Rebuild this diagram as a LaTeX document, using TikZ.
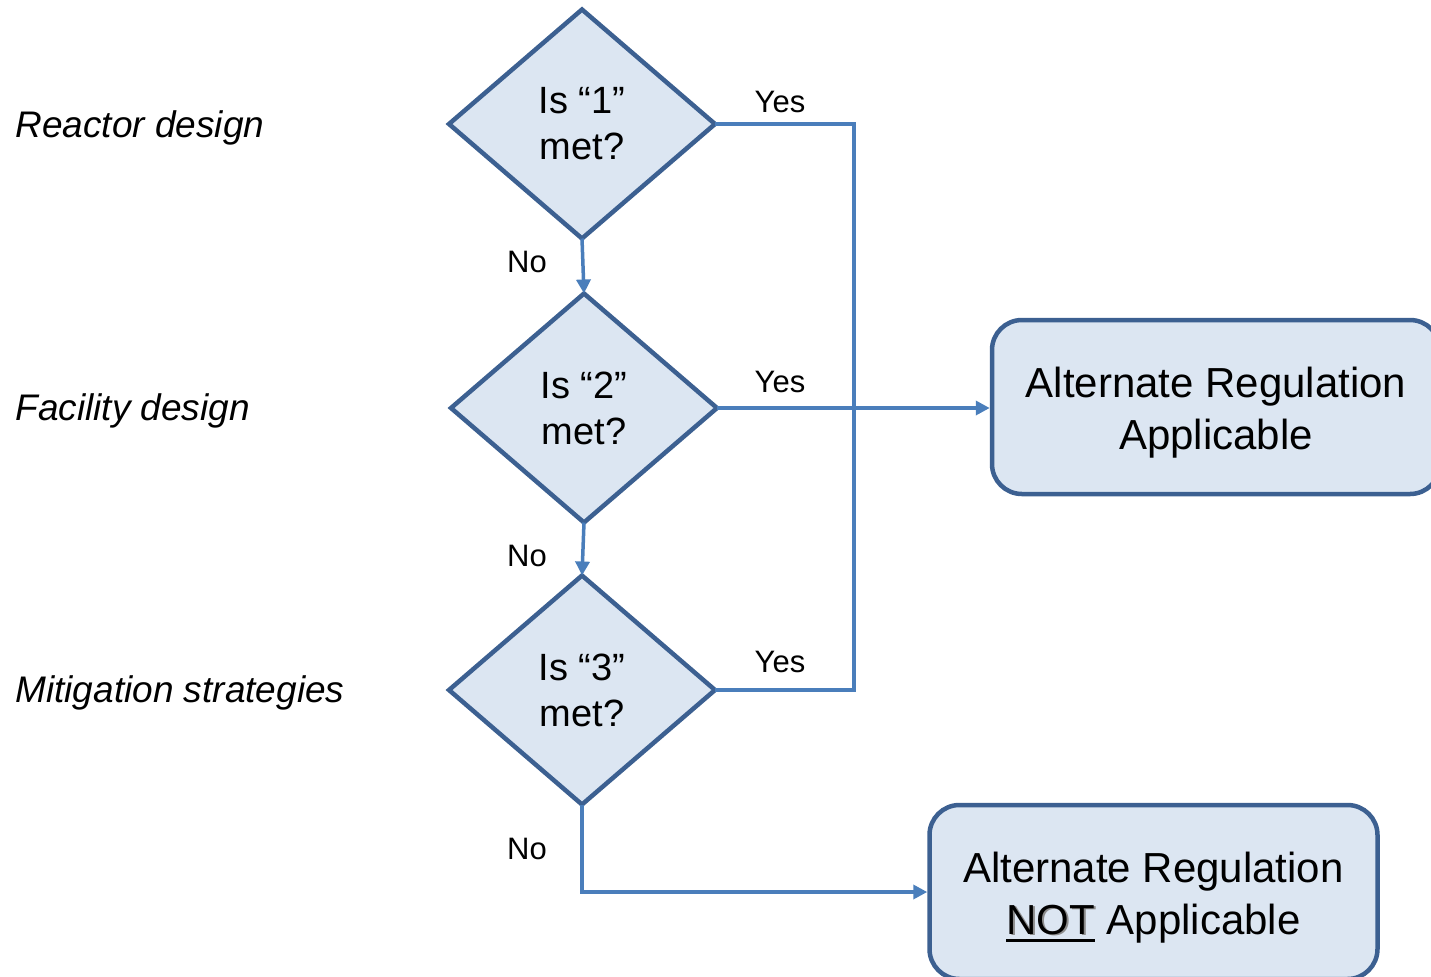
\documentclass[tikz,border=0pt]{standalone}
\usepackage{fontspec}
\setmainfont{Liberation Sans}
\usetikzlibrary{shapes.geometric,arrows.meta}

\definecolor{linkblue}{RGB}{74,126,187}
\definecolor{edgeblue}{RGB}{60,96,145}
\definecolor{paleblue}{RGB}{220,230,242}

% thick underline placed under a word
\newcommand{\thickul}[1]{\setbox0\hbox{#1}\rlap{\rule[-4pt]{\wd0}{1.5pt}}\box0\relax}
% strut that lowers a two-line block slightly inside its box
\newcommand{\topstrut}{\rule{0pt}{20.5pt}}

\begin{document}
\begin{tikzpicture}[x=0.5pt,y=-0.5pt,
  decision/.style={diamond, draw=edgeblue, line width=2.25pt, fill=paleblue,
    minimum width=133pt, minimum height=114.5pt, inner sep=0pt, outer sep=0pt,
    align=center, font=\fontsize{19}{23}\selectfont},
  outcome/.style={rectangle, rounded corners=15pt, draw=edgeblue, line width=2.25pt,
    fill=paleblue, minimum width=224pt, minimum height=87pt, inner sep=0pt,
    align=center, font=\fontsize{21}{26}\selectfont},
  stage/.style={anchor=west, inner sep=0pt, font=\fontsize{18.5}{22}\selectfont\itshape},
  answer/.style={inner sep=0pt, font=\fontsize{15.5}{18}\selectfont},
  conn/.style={draw=linkblue, line width=1.75pt},
  arr/.style={conn, -{Triangle[length=7pt,width=7pt]}}]

\path[use as bounding box] (0,0) rectangle (1431,976);

% stage labels
\node[stage] (l1) at (15,128) {Reactor design};
\node[stage] (l2) at (15,411) {Facility design};
\node[stage] (l3) at (15,693) {Mitigation strategies};

% decisions
\node[decision] (d1) at (582,124) {Is “1”\\met?};
\node[decision] (d2) at (584,408) {Is “2”\\met?};
\node[decision] (d3) at (582,690) {Is “3”\\met?};

% outcomes
\node[outcome] (yes) at (1216,407) {\topstrut Alternate Regulation\\Applicable};
\node[outcome] (no) at (1153.5,892) {\topstrut Alternate Regulation\\\thickul{\rlap{\hspace{0.9pt}\raisebox{-0.9pt}{\color{black!45}NOT}}NOT} Applicable};

% collector line for the "Yes" branches
\coordinate (bus) at (854,124);
\draw[conn] (d1.east) -- (d1.east -| bus) -- (d3.east -| bus) -- (d3.east);
\draw[arr] (d2.east) -- (d2.east -| yes.west);

% "No" branches
\draw[arr] (d1.south) -- (d2.north);
\draw[arr] (d2.south) -- (d3.north);
\draw[arr] (d3.south) |- (no.west);

% branch labels
\node[answer] (y1) at (780,102) {Yes};
\node[answer] (y2) at (780,382) {Yes};
\node[answer] (y3) at (780,662) {Yes};
\node[answer] (n1) at (527,262) {No};
\node[answer] (n2) at (527,556) {No};
\node[answer] (n3) at (527,849) {No};
\end{tikzpicture}
\end{document}
